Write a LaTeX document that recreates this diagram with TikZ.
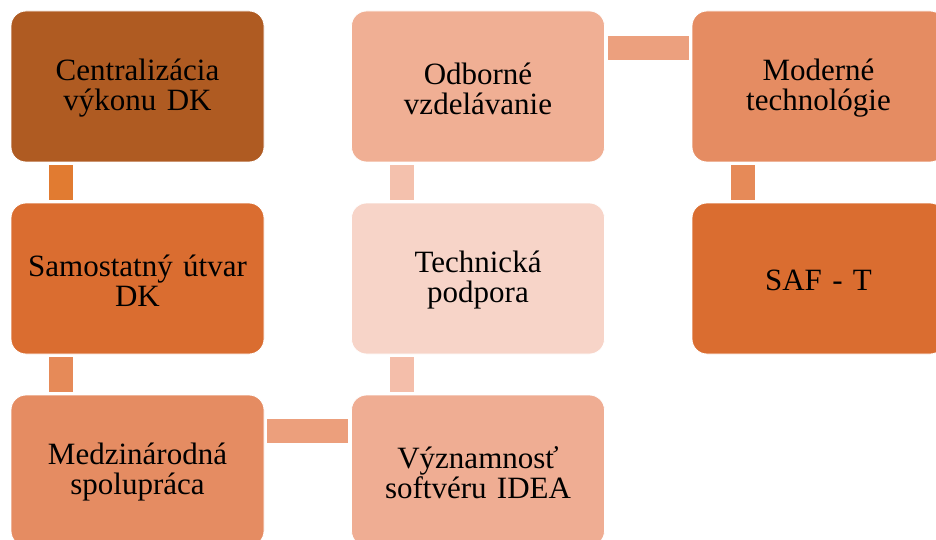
\documentclass[tikz,border=0pt]{standalone}
\usepackage{fontspec}
\setmainfont{Liberation Serif}
\usetikzlibrary{calc}
\definecolor{cA}{HTML}{AF5B22}
\definecolor{cAB}{HTML}{E17B31}
\definecolor{cB}{HTML}{DA6D30}
\definecolor{cBC}{HTML}{E68A58}
\definecolor{cC}{HTML}{E58C62}
\definecolor{cCD}{HTML}{EC9F7C}
\definecolor{cD}{HTML}{EFAD93}
\definecolor{cDE}{HTML}{F4BEAA}
\definecolor{cE}{HTML}{F7D4C8}
\definecolor{cEF}{HTML}{F4C1AD}
\definecolor{cF}{HTML}{F0AF94}
\definecolor{cFG}{HTML}{ECA07E}
\definecolor{cG}{HTML}{E58C62}
\definecolor{cGH}{HTML}{E68A58}
\definecolor{cH}{HTML}{DA6D30}
\tikzset{
  stepbox/.style={rounded corners=15pt, draw=white, line width=0.8pt,
    minimum width=253pt, minimum height=151pt, inner sep=0pt},
  steptext/.style={align=center, text width=245pt, inner sep=0pt,
    font=\fontsize{31}{30}\selectfont},
  bar/.style={line width=24pt, shorten <=3pt, shorten >=3pt}
}
\begin{document}
\begin{tikzpicture}[x=1pt,y=-1pt]
\useasboundingbox (0,0) rectangle (936,540);
\clip (0,0) rectangle (936,540);
% boxes of the chain
\node[stepbox, fill=cA] (a) at (137.5,86.5) {};
\node[stepbox, fill=cB] (b) at (137.5,278.5) {};
\node[stepbox, fill=cC] (c) at (137.5,470.5) {};
\node[stepbox, fill=cD] (d) at (478,470.5) {};
\node[stepbox, fill=cE] (e) at (478,278.5) {};
\node[stepbox, fill=cF] (f) at (478,86.5) {};
\node[stepbox, fill=cG] (g) at (818.5,86.5) {};
\node[stepbox, fill=cH] (h) at (818.5,278.5) {};
% their texts
\node[steptext] (at) at ([yshift=-2pt]a.center) {Centralizácia\\výkonu DK};
\node[steptext] (bt) at ([yshift=-2pt]b.center) {Samostatný útvar\\DK};
\node[steptext] (ct) at ([yshift=-2pt]c.center) {Medzinárodná\\spolupráca};
\node[steptext] (dt) at ([yshift=-2pt]d.center) {Významnosť\\softvéru IDEA};
\node[steptext] (et) at ([yshift=-2pt]e.center) {Technická\\podpora};
\node[steptext] (ft) at ([yshift=-2pt]f.center) {Odborné\\vzdelávanie};
\node[steptext] (gt) at ([yshift=-2pt]g.center) {Moderné\\technológie};
\node[steptext] (ht) at ([yshift=-2pt]h.center) {SAF - T};
% connecting bars
\draw[bar, cAB] ($(a.south west)+(50.5,0)$) -- ($(b.north west)+(50.5,0)$);
\draw[bar, cBC] ($(b.south west)+(50.5,0)$) -- ($(c.north west)+(50.5,0)$);
\draw[bar, cCD] ($(c.north east)+(0,36.5)$) -- ($(d.north west)+(0,36.5)$);
\draw[bar, cDE] ($(d.north west)+(51,0)$) -- ($(e.south west)+(51,0)$);
\draw[bar, cEF] ($(e.north west)+(51,0)$) -- ($(f.south west)+(51,0)$);
\draw[bar, cFG] ($(f.north east)+(0,37)$) -- ($(g.north west)+(0,37)$);
\draw[bar, cGH] ($(g.south west)+(51,0)$) -- ($(h.north west)+(51,0)$);
\end{tikzpicture}
\end{document}
